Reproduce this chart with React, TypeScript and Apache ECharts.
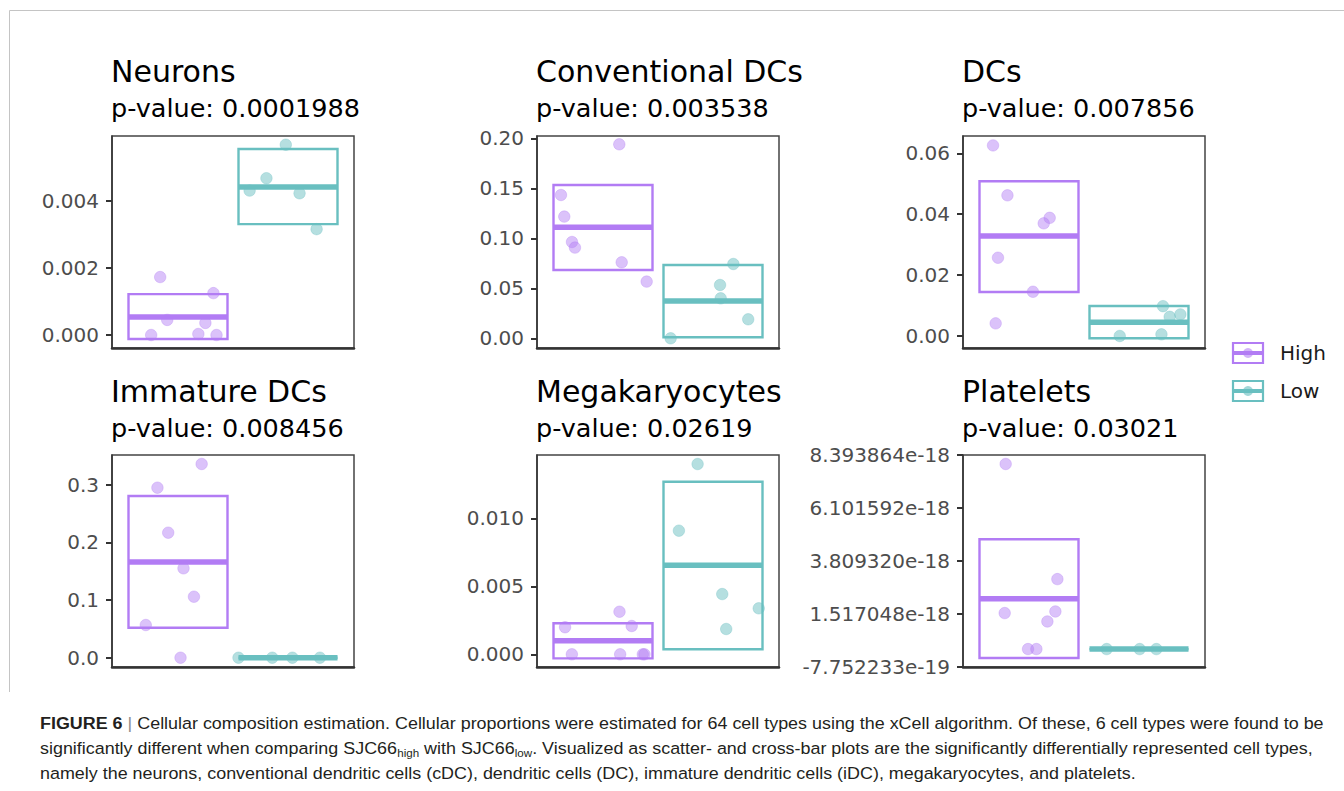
import React, { useEffect, useRef } from "react";
import * as echarts from "echarts";

// ---------- DATA ----------
const panelTitles = ["Neurons", "Conventional DCs", "DCs", "Immature DCs", "Megakaryocytes", "Platelets"];
const pValues = ["0.0001988", "0.003538", "0.007856", "0.008456", "0.02619", "0.03021"];
const groupNames = ["High", "Low"];

// points: [jittered x position (1 = High, 2 = Low), value]
const neuronsHigh = [[0.756, 0.0], [0.838, 0.00173], [0.902, 0.00045], [1.185, 0.00003], [1.249, 0.00036], [1.322, 0.00125], [1.35, 0.0]];
const neuronsLow = [[1.651, 0.00431], [1.804, 0.00468], [1.98, 0.00568], [2.105, 0.00423], [2.26, 0.00316]];
const neuronsBars = [[-0.00012, 0.00054, 0.00122], [0.00331, 0.00442, 0.00555]]; // [lo, mid, hi]
const neuronsTicks = [0, 0.002, 0.004];
const neuronsTickLabels = ["0.000", "0.002", "0.004"];
const neuronsRange = [-0.000388, 0.00594];

const cdcHigh = [[0.618, 0.1433], [0.648, 0.1217], [0.718, 0.0963], [0.745, 0.0907], [1.148, 0.194], [1.17, 0.076], [1.397, 0.0567]];
const cdcLow = [[1.615, 0.0], [2.064, 0.0533], [2.07, 0.04], [2.185, 0.0743], [2.32, 0.019]];
const cdcBars = [[0.0683, 0.111, 0.1533], [0.001, 0.0373, 0.0733]];
const cdcTicks = [0, 0.05, 0.1, 0.15, 0.2];
const cdcTickLabels = ["0.00", "0.05", "0.10", "0.15", "0.20"];
const cdcRange = [-0.0097, 0.2023];

const dcHigh = [[0.673, 0.0626], [0.804, 0.0462], [0.718, 0.0257], [1.036, 0.01453], [0.697, 0.00415], [1.134, 0.037], [1.188, 0.0388]];
const dcLow = [[1.825, 0.0], [2.204, 0.00055], [2.218, 0.0098], [2.279, 0.0063], [2.376, 0.0071]];
const dcBars = [[0.01443, 0.0328, 0.0508], [-0.00075, 0.0045, 0.00984]];
const dcTicks = [0, 0.02, 0.04, 0.06];
const dcTickLabels = ["0.00", "0.02", "0.04", "0.06"];
const dcRange = [-0.00394, 0.06568];

const idcHigh = [[0.707, 0.0567], [0.813, 0.2948], [0.911, 0.2168], [1.023, 0.0], [1.05, 0.155], [1.145, 0.1058], [1.215, 0.3359]];
const idcLow = [[1.55, 0], [1.857, 0], [2.04, 0], [2.29, 0]];
const idcBars = [[0.052, 0.166, 0.2804], [0, 0, 0]];
const idcTicks = [0, 0.1, 0.2, 0.3];
const idcTickLabels = ["0.0", "0.1", "0.2", "0.3"];
const idcRange = [-0.0161, 0.3515];

const megaHigh = [[0.655, 0.00199], [0.717, 0], [1.15, 0.00313], [1.156, 0], [1.261, 0.00208], [1.362, 0], [1.377, 0]];
const megaLow = [[1.69, 0.00909], [1.86, 0.01399], [2.084, 0.00443], [2.12, 0.00186], [2.416, 0.00338]];
const megaBars = [[-0.0003, 0.001, 0.00228], [0.00037, 0.00654, 0.01269]];
const megaTicks = [0, 0.005, 0.01];
const megaTickLabels = ["0.000", "0.005", "0.010"];
const megaRange = [-0.000934, 0.014654];

const plateletsHigh = [[0.779, 1.557e-18], [0.788, 8.005e-18], [0.991, 0], [1.067, 0], [1.167, 1.194e-18], [1.24, 1.626e-18], [1.258, 3.026e-18]];
const plateletsLow = [[1.706, 0], [2.006, 0], [2.158, 0]];
const plateletsBars = [[-3.86e-19, 2.175e-18, 4.753e-18], [0, 0, 0]];
const plateletsTicks = [-7.752233e-19, 1.517048e-18, 3.80932e-18, 6.101592e-18, 8.393864e-18];
const plateletsTickLabels = ["-7.752233e-19", "1.517048e-18", "3.809320e-18", "6.101592e-18", "8.393864e-18"];
const plateletsRange = [-7.752233e-19, 8.393864e-18];

const captionLine1 = "Cellular composition estimation. Cellular proportions were estimated for 64 cell types using the xCell algorithm. Of these, 6 cell types were found to be";
const captionLine3 = "namely the neurons, conventional dendritic cells (cDC), dendritic cells (DC), immature dendritic cells (iDC), megakaryocytes, and platelets.";

// ---------- LAYOUT / STYLE ----------
const PURPLE = "#B27CF4";
const TEAL = "#69BFC0";
const PURPLE_PT = "rgba(178,124,244,0.58)";
const TEAL_PT = "rgba(105,191,192,0.62)";
const colLefts = [112, 537, 963];
const rowTops = [136, 455];
const GRID_W = 242;
const GRID_H = 212;
const FONT = "DejaVu Sans";
const CAP_FONT = "Liberation Sans";

const panels = [
  { high: neuronsHigh, low: neuronsLow, bars: neuronsBars, ticks: neuronsTicks, labels: neuronsTickLabels, range: neuronsRange },
  { high: cdcHigh, low: cdcLow, bars: cdcBars, ticks: cdcTicks, labels: cdcTickLabels, range: cdcRange },
  { high: dcHigh, low: dcLow, bars: dcBars, ticks: dcTicks, labels: dcTickLabels, range: dcRange },
  { high: idcHigh, low: idcLow, bars: idcBars, ticks: idcTicks, labels: idcTickLabels, range: idcRange },
  { high: megaHigh, low: megaLow, bars: megaBars, ticks: megaTicks, labels: megaTickLabels, range: megaRange },
  { high: plateletsHigh, low: plateletsLow, bars: plateletsBars, ticks: plateletsTicks, labels: plateletsTickLabels, range: plateletsRange },
];

function measure(text: string, font: string): number {
  const c = document.createElement("canvas").getContext("2d");
  if (!c) return text.length * 8;
  c.font = font;
  return c.measureText(text).width;
}

function buildOption() {
  const grid: any[] = [];
  const xAxis: any[] = [];
  const yAxis: any[] = [];
  const series: any[] = [];
  const graphic: any[] = [];

  panels.forEach((p, i) => {
    const col = i % 3;
    const row = Math.floor(i / 3);
    const left = colLefts[col];
    const top = rowTops[row];
    grid.push({ left, top, width: GRID_W, height: GRID_H, show: true, borderColor: "#444", borderWidth: 1.5, backgroundColor: "#fff" });
    xAxis.push({
      gridIndex: i, type: "value", min: 0.4, max: 2.6,
      axisLine: { show: true, onZero: false, lineStyle: { color: "#333", width: 2.5 } },
      axisTick: { show: false }, axisLabel: { show: false }, splitLine: { show: false },
    });
    const ticks = p.ticks;
    const labels = p.labels;
    yAxis.push({
      gridIndex: i, type: "value", min: p.range[0], max: p.range[1],
      axisLine: { show: true, onZero: false, lineStyle: { color: "#333", width: 1.5 } },
      axisTick: { show: true, length: 6, lineStyle: { color: "#333", width: 2 }, customValues: ticks },
      axisLabel: {
        show: true, customValues: ticks, fontSize: 20, color: "#4d4d4d", fontFamily: FONT, margin: 13,
        formatter: (v: number) => {
          let best = 0;
          let bd = Infinity;
          ticks.forEach((t, k) => { const d = Math.abs(t - v); if (d < bd) { bd = d; best = k; } });
          return labels[best];
        },
      },
      splitLine: { show: false },
    });
    series.push({
      type: "scatter", name: groupNames[0], xAxisIndex: i, yAxisIndex: i, data: p.high,
      symbolSize: 11.5, z: 2,
      itemStyle: { color: PURPLE_PT, borderColor: "rgba(178,124,244,0.4)", borderWidth: 1 },
    });
    series.push({
      type: "scatter", name: groupNames[1], xAxisIndex: i, yAxisIndex: i, data: p.low,
      symbolSize: 11.5, z: 2,
      itemStyle: { color: TEAL_PT, borderColor: "rgba(105,191,192,0.4)", borderWidth: 1 },
    });
    series.push({
      type: "custom", xAxisIndex: i, yAxisIndex: i, z: 3,
      data: p.bars.map((b, k) => [k + 1, b[0], b[1], b[2]]),
      encode: { x: 0, y: [1, 2, 3] },
      renderItem: (params: any, api: any) => {
        const x = api.value(0);
        const lo = api.value(1);
        const mid = api.value(2);
        const hi = api.value(3);
        const color = x === 1 ? PURPLE : TEAL;
        const p1 = api.coord([x - 0.45, hi]);
        const p2 = api.coord([x + 0.45, lo]);
        const pm = api.coord([x - 0.45, mid]);
        return {
          type: "group",
          children: [
            { type: "rect", shape: { x: p1[0], y: p1[1], width: p2[0] - p1[0], height: p2[1] - p1[1] }, style: { fill: "none", stroke: color, lineWidth: 2.4 } },
            { type: "line", shape: { x1: pm[0], y1: pm[1], x2: p2[0], y2: pm[1] }, style: { stroke: color, lineWidth: 5.5 } },
          ],
        };
      },
    });
    // titles
    const tx = left - 1;
    const ty = row === 0 ? 71 : 391;
    graphic.push({ type: "text", x: tx, y: ty, style: { text: panelTitles[i], font: `30px "${FONT}"`, fill: "#000", verticalAlign: "middle", align: "left" } });
    graphic.push({ type: "text", x: tx, y: ty + 37, style: { text: "p-value: " + pValues[i], font: `25.5px "${FONT}"`, fill: "#000", verticalAlign: "middle", align: "left" } });
  });

  // legend
  const legendItems = [
    { name: groupNames[0], color: PURPLE, pt: PURPLE_PT, y: 353 },
    { name: groupNames[1], color: TEAL, pt: TEAL_PT, y: 391 },
  ];
  legendItems.forEach((it) => {
    graphic.push({ type: "rect", shape: { x: 1233, y: it.y - 10, width: 30, height: 20 }, style: { fill: "none", stroke: it.color, lineWidth: 2.2 } });
    graphic.push({ type: "line", shape: { x1: 1233, y1: it.y, x2: 1263, y2: it.y }, style: { stroke: it.color, lineWidth: 4 } });
    graphic.push({ type: "circle", shape: { cx: 1248, cy: it.y, r: 5 }, style: { fill: it.pt } });
    graphic.push({ type: "text", x: 1280, y: it.y, style: { text: it.name, font: `20px "${FONT}"`, fill: "#1a1a1a", verticalAlign: "middle" } });
  });

  // figure border (top and left)
  graphic.push({ type: "polyline", shape: { points: [[9.5, 692], [9.5, 10.5], [1400, 10.5]] }, style: { fill: "none", stroke: "#c4c4c4", lineWidth: 1 }, z: -1 });

  // caption
  const fs = 17;
  const w1 = measure("FIGURE 6", `bold ${fs}px "${CAP_FONT}"`) + measure(" | " + captionLine1, `${fs}px "${CAP_FONT}"`);
  const sx = 1285 / w1;
  const rich = {
    b: { fontFamily: CAP_FONT, fontSize: fs, fontWeight: "bold", fill: "#231f20", lineHeight: 22 },
    g: { fontFamily: CAP_FONT, fontSize: fs, fill: "#8a8a8a", lineHeight: 22 },
    n: { fontFamily: CAP_FONT, fontSize: fs, fill: "#231f20", lineHeight: 22 },
    s: { fontFamily: CAP_FONT, fontSize: 11, fill: "#231f20", lineHeight: 12, verticalAlign: "bottom" },
  };
  const capLines = [
    "{b|FIGURE 6}{g| | }{n|" + captionLine1 + "}",
    "{n|significantly different when comparing SJC66}{s|high}{n| with SJC66}{s|low}{n|. Visualized as scatter- and cross-bar plots are the significantly differentially represented cell types,}",
    "{n|" + captionLine3 + "}",
  ];
  capLines.forEach((t, k) => {
    graphic.push({
      type: "text", x: 40, y: 723 + k * 25, scaleX: sx, scaleY: 1,
      style: { text: t, rich, verticalAlign: "middle", align: "left", font: `${fs}px "${CAP_FONT}"` },
    });
  });

  return { animation: false, backgroundColor: "#fff", grid, xAxis, yAxis, series, graphic };
}

export default function App() {
  const ref = useRef<HTMLDivElement>(null);
  useEffect(() => {
    document.body.style.margin = "0";
    if (!ref.current) return;
    const chart = echarts.init(ref.current, undefined, { renderer: "svg" });
    chart.setOption(buildOption() as any);
    return () => chart.dispose();
  }, []);
  return <div ref={ref} style={{ position: "absolute", left: 0, top: 0, width: 1344, height: 791, background: "#fff" }} />;
}
